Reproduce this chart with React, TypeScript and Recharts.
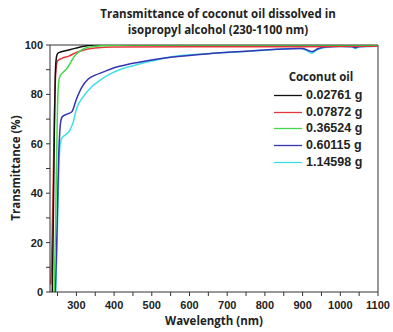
import React from 'react';
import { LineChart, Line, XAxis, YAxis, ReferenceLine } from 'recharts';

const titleLines = ['Transmittance of coconut oil dissolved in', 'isopropyl alcohol (230-1100 nm)'];
const xLabel = 'Wavelength (nm)';
const yLabel = 'Transmittance (%)';
const legendTitle = 'Coconut oil';
const seriesNames = ['0.02761 g', '0.07872 g', '0.36524 g', '0.60115 g', '1.14598 g'];
const seriesColors = ['#111111', '#e8383d', '#44d844', '#3434b4', '#3fdfe8'];

const xTicks = [250, 300, 350, 400, 450, 500, 550, 600, 650, 700, 750, 800, 850, 900, 950, 1000, 1050, 1100];
const yTicks = [0, 10, 20, 30, 40, 50, 60, 70, 80, 90, 100];

const wlBlack = [236, 238, 240, 242, 244, 247, 250, 255, 265, 280, 300, 320, 350, 400, 600, 900, 1100];
const tBlack = [0, 20, 45, 70, 88, 95, 96.5, 97, 97.5, 98, 98.8, 99.5, 100, 100, 100, 100, 100];

const wlRed = [232, 234, 236, 238, 240, 243, 246, 250, 260, 280, 300, 320, 350, 400, 600, 900, 1100];
const tRed = [3, 12, 25, 40, 58, 80, 90, 93.5, 94.5, 95.5, 97, 98, 98.8, 99.2, 99.3, 99.3, 99.5];

const wlGreen = [241, 244, 247, 250, 253, 257, 265, 275, 285, 295, 305, 320, 340, 370, 450, 700, 1100];
const tGreen = [0, 20, 50, 75, 85, 87.5, 89, 90.5, 93, 95.5, 97, 98.5, 99.3, 99.7, 100, 100, 100];

const wlBlue = [244, 247, 250, 253, 256, 259, 263, 275, 288, 300, 315, 330, 350, 370, 400, 440, 480, 550, 650, 750, 850, 900, 915, 925, 940, 960, 1000, 1030, 1040, 1050, 1100];
const tBlue = [0, 15, 35, 55, 65, 69.5, 71, 72, 73, 78, 83, 86, 87.8, 89, 90.8, 92.3, 93.4, 95, 96.5, 97.5, 98.4, 98.6, 97.8, 97.3, 98.5, 99.2, 99.5, 99.4, 98.9, 99.4, 99.6];

const wlCyan = [245, 248, 251, 254, 257, 262, 270, 283, 292, 300, 318, 340, 363, 390, 420, 460, 500, 556, 650, 734, 820, 893, 910, 924, 940, 960, 1000, 1030, 1040, 1050, 1100];
const tCyan = [0, 15, 35, 52, 60, 62.5, 63.5, 65.5, 69, 74, 79, 83, 85.8, 88.3, 90.3, 92, 93.5, 95.3, 96.5, 97.3, 98.1, 98.7, 97.8, 96.7, 98.2, 99, 99.4, 99.2, 98.6, 99.2, 99.5];

const build = (xs: number[], ys: number[]) => xs.map((x, i) => ({ x, y: ys[i] }));

const series = [
  { data: build(wlBlack, tBlack), idx: 0 },
  { data: build(wlRed, tRed), idx: 1 },
  { data: build(wlGreen, tGreen), idx: 2 },
  { data: build(wlBlue, tBlue), idx: 3 },
  { data: build(wlCyan, tCyan), idx: 4 },
];
const drawOrder = [4, 3, 1, 0, 2];

const font = '"Liberation Sans", Arial, sans-serif';
const titleFont = '"Open Sans", "Noto Sans", sans-serif';

export default function App() {
  return (
    <div style={{ position: 'absolute', left: 0, top: 0, width: 393, height: 332, background: '#fff' }}>
      <LineChart width={393} height={332} margin={{ top: 45, right: 15, bottom: 0, left: 0 }}>
        <XAxis
          dataKey="x"
          type="number"
          domain={[230, 1100]}
          ticks={xTicks}
          allowDataOverflow
          tickFormatter={(v: number) => (v % 100 === 0 ? String(v) : '')}
          tick={{ fontSize: 11, fontWeight: 700, fill: '#222', fontFamily: font }}
          tickSize={4}
          tickMargin={5}
          height={40}
          stroke="#333"
        />
        <YAxis
          type="number"
          domain={[0, 100]}
          ticks={yTicks}
          allowDataOverflow
          tickFormatter={(v: number) => (v % 20 === 0 ? String(v) : '')}
          tick={{ fontSize: 11, fontWeight: 700, fill: '#222', fontFamily: font }}
          tickSize={4}
          tickMargin={3}
          width={50}
          stroke="#333"
        />
        <ReferenceLine y={100} stroke="#333" strokeWidth={1} />
        <ReferenceLine x={1100} stroke="#333" strokeWidth={1} />
        {drawOrder.map((i) => (
          <Line
            key={i}
            data={series[i].data}
            dataKey="y"
            type="monotoneX"
            stroke={seriesColors[i]}
            strokeWidth={1.5}
            dot={false}
            isAnimationActive={false}
          />
        ))}
      </LineChart>
      <div style={{ position: 'absolute', left: 0, top: 6, width: 436, textAlign: 'center', fontFamily: titleFont, fontWeight: 700, fontSize: 11.5, lineHeight: '16px', color: '#222' }}>
        {titleLines.map((t) => (
          <div key={t}>{t}</div>
        ))}
      </div>
      <div style={{ position: 'absolute', left: 114, top: 313, width: 200, textAlign: 'center', fontFamily: titleFont, fontWeight: 700, fontSize: 11.5, color: '#222' }}>
        {xLabel}
      </div>
      <div style={{ position: 'absolute', left: 16, top: 168, width: 0, height: 0 }}>
        <div style={{ position: 'absolute', left: -100, top: -8, width: 200, textAlign: 'center', transform: 'rotate(-90deg)', fontFamily: titleFont, fontWeight: 700, fontSize: 11.5, lineHeight: '16px', color: '#222' }}>
          {yLabel}
        </div>
      </div>
      <div style={{ position: 'absolute', left: 280, top: 69, width: 82, textAlign: 'center', whiteSpace: 'nowrap', fontFamily: titleFont, fontWeight: 700, fontSize: 11.5, color: '#222' }}>
        {legendTitle}
      </div>
      {seriesNames.map((n, i) => (
        <div key={n} style={{ position: 'absolute', left: 274, top: Math.round(87 + i * 16.7), height: 16, display: 'flex', alignItems: 'center', whiteSpace: 'nowrap' }}>
          <svg width={28} height={16} style={{ marginRight: 4, display: 'block' }}>
            <line x1={0} x2={28} y1={8.5} y2={8.5} stroke={seriesColors[i]} strokeWidth={1.3} />
          </svg>
          <div style={{ fontFamily: font, fontWeight: 700, fontSize: 12.5, color: '#222' }}>{n}</div>
        </div>
      ))}
    </div>
  );
}
